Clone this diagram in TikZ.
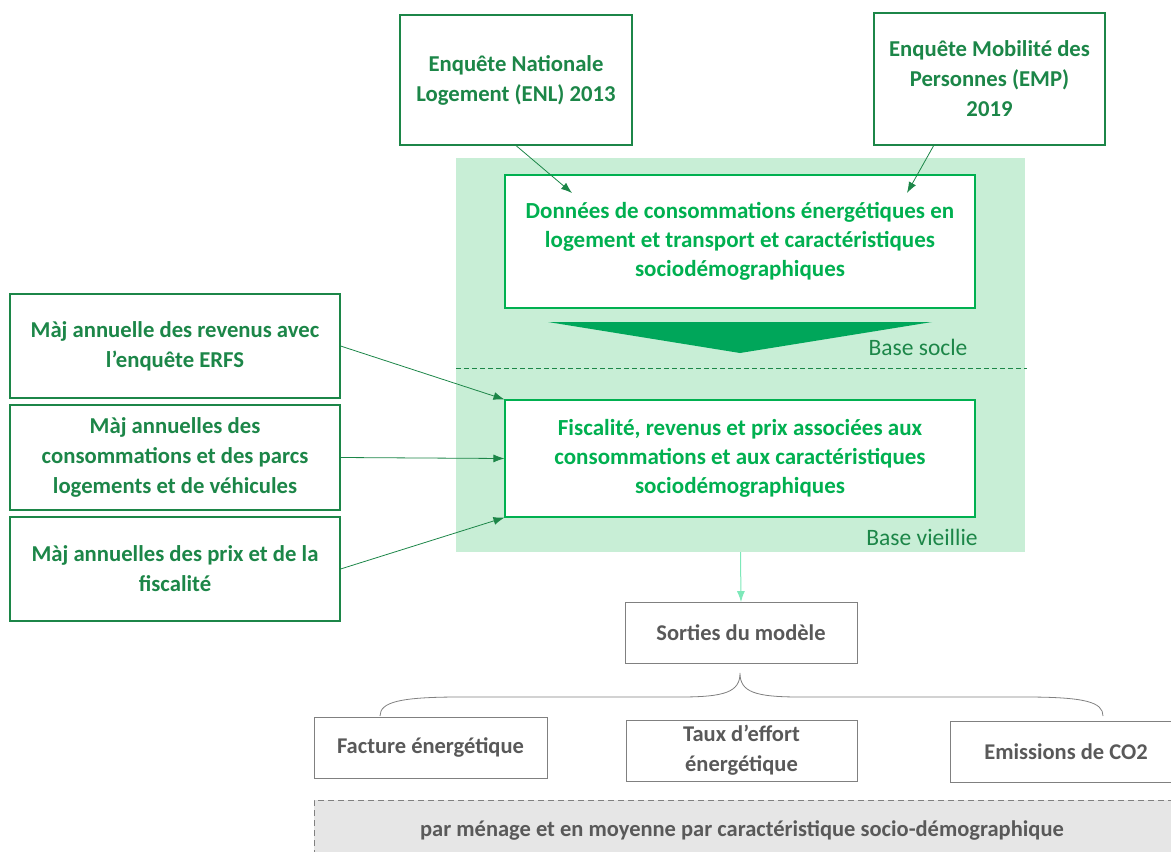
\documentclass[tikz,border=0pt]{standalone}
\usepackage{fontspec}
\setmainfont{Carlito}
\usetikzlibrary{arrows.meta,arrows}
\definecolor{dkgreen}{RGB}{28,134,72}
\definecolor{brgreen}{RGB}{0,176,80}
\definecolor{bggreen}{RGB}{200,238,214}
\definecolor{chevgreen}{RGB}{0,166,90}
\definecolor{mint}{RGB}{125,232,185}
\definecolor{txtgray}{RGB}{89,89,89}
\definecolor{boxgray}{RGB}{128,128,128}
\definecolor{bandgray}{RGB}{230,230,230}
\begin{document}
\begin{tikzpicture}[x=1pt,y=-1pt,
    srcbox/.style={draw=dkgreen, line width=1.1pt, fill=white, text=dkgreen, align=center, inner sep=0pt,
        font=\bfseries\fontsize{22.7}{30}\selectfont},
    basebox/.style={draw=brgreen, line width=1.1pt, fill=white, text=brgreen, align=center, inner sep=0pt,
        font=\bfseries\fontsize{23}{29}\selectfont, minimum width=470pt},
    outbox/.style={draw=boxgray, line width=0.8pt, fill=white, text=txtgray, align=center, inner sep=0pt,
        font=\bfseries\fontsize{22.5}{30}\selectfont, minimum height=61pt},
    baselabel/.style={text=dkgreen, font=\fontsize{23.5}{26}\selectfont, inner sep=0pt},
    flow/.style={line width=0.8pt, -{Latex[length=11pt,width=8pt]}}]
        \useasboundingbox (0,0) rectangle (1171,852);
        % Fond des bases
        \node[fill=bggreen, minimum width=569pt, minimum height=394pt, inner sep=0pt] (bg) at (740.5,355) {};
        \draw[dkgreen, dash pattern=on 5pt off 3pt, line width=0.8pt] (456,368) -- (1027,368);
        % Enquetes sources
        \node[srcbox, minimum width=232pt, minimum height=130pt] (enl) at (516,80)
            {Enquête Nationale\\Logement (ENL) 2013};
        \node[srcbox, minimum width=231pt, minimum height=132pt] (emp) at (989.5,79)
            {Enquête Mobilité des\\Personnes (EMP)\\2019};
        % Bases
        \node[basebox, minimum height=133pt] (donnees) at (740,241.5)
            {Données de consommations énergétiques en\\logement et transport et caractéristiques\\sociodémographiques};
        \node[basebox, minimum height=117pt] (fisc) at (740,458.5)
            {Fiscalité, revenus et prix associées aux\\consommations et aux caractéristiques\\sociodémographiques};
        \fill[chevgreen] (548,322) -- (932,322) -- (740,353) -- cycle;
        \node[baselabel] (socle) at (918,347) {Base socle};
        \node[baselabel] (vieillie) at (922,537) {Base vieillie};
        % Mises a jour annuelles
        \node[srcbox, minimum width=330pt, minimum height=104pt] (majrev) at (175,346)
            {Màj annuelle des revenus avec\\l’enquête ERFS};
        \node[srcbox, minimum width=330pt, minimum height=105pt] (majcons) at (175,457.5)
            {Màj annuelles des\\consommations et des parcs\\logements et de véhicules};
        \node[srcbox, minimum width=330pt, minimum height=104pt] (majprix) at (175,569)
            {Màj annuelles des prix et de la\\fiscalité};
        % Sorties
        \node[outbox, minimum width=232pt] (sorties) at (741,633) {Sorties du modèle};
        \node[outbox, minimum width=233pt] (facture) at (430.5,747.5) {Facture énergétique};
        \node[outbox, minimum width=231pt] (taux) at (741.5,750.5) {Taux d’effort\\énergétique};
        \node[outbox, minimum width=232pt] (emis) at (1066,752) {Emissions de CO2};
        \node[draw=boxgray, dash pattern=on 6pt off 4pt, line width=0.8pt, fill=bandgray, minimum width=870pt,
            minimum height=60pt, inner sep=0pt] (band) at (749,830) {};
        \node[text=txtgray, font=\bfseries\fontsize{22.5}{26}\selectfont] (bandtxt) at (742,830)
            {par ménage et en moyenne par caractéristique socio-démographique};
        %
        % Fleches
        \coordinate (d1) at (572,193);
        \coordinate (e0) at (934,145);
        \coordinate (d2) at (907,193);
        \draw[dkgreen, flow] (enl.south) -- (d1);
        \draw[dkgreen, flow] (e0) -- (d2);
        \draw[dkgreen, flow] (majrev.east) -- (fisc.north west);
        \draw[dkgreen, flow] (majcons.east) -- (fisc.west);
        \draw[dkgreen, flow] (majprix.east) -- (fisc.south west);
        \draw[mint, flow, line width=1pt] (bg.south) -- (sorties.north);
        % Accolade
        \draw[boxgray, line width=0.8pt] (380,716) .. controls (380,702) and (400,697) .. (460,697)
            -- (680,697) .. controls (725,697) and (740,692) .. (740,673)
            .. controls (740,692) and (755,697) .. (800,697) -- (1025,697)
            .. controls (1085,697) and (1103,702) .. (1103,716);
\end{tikzpicture}
\end{document}
